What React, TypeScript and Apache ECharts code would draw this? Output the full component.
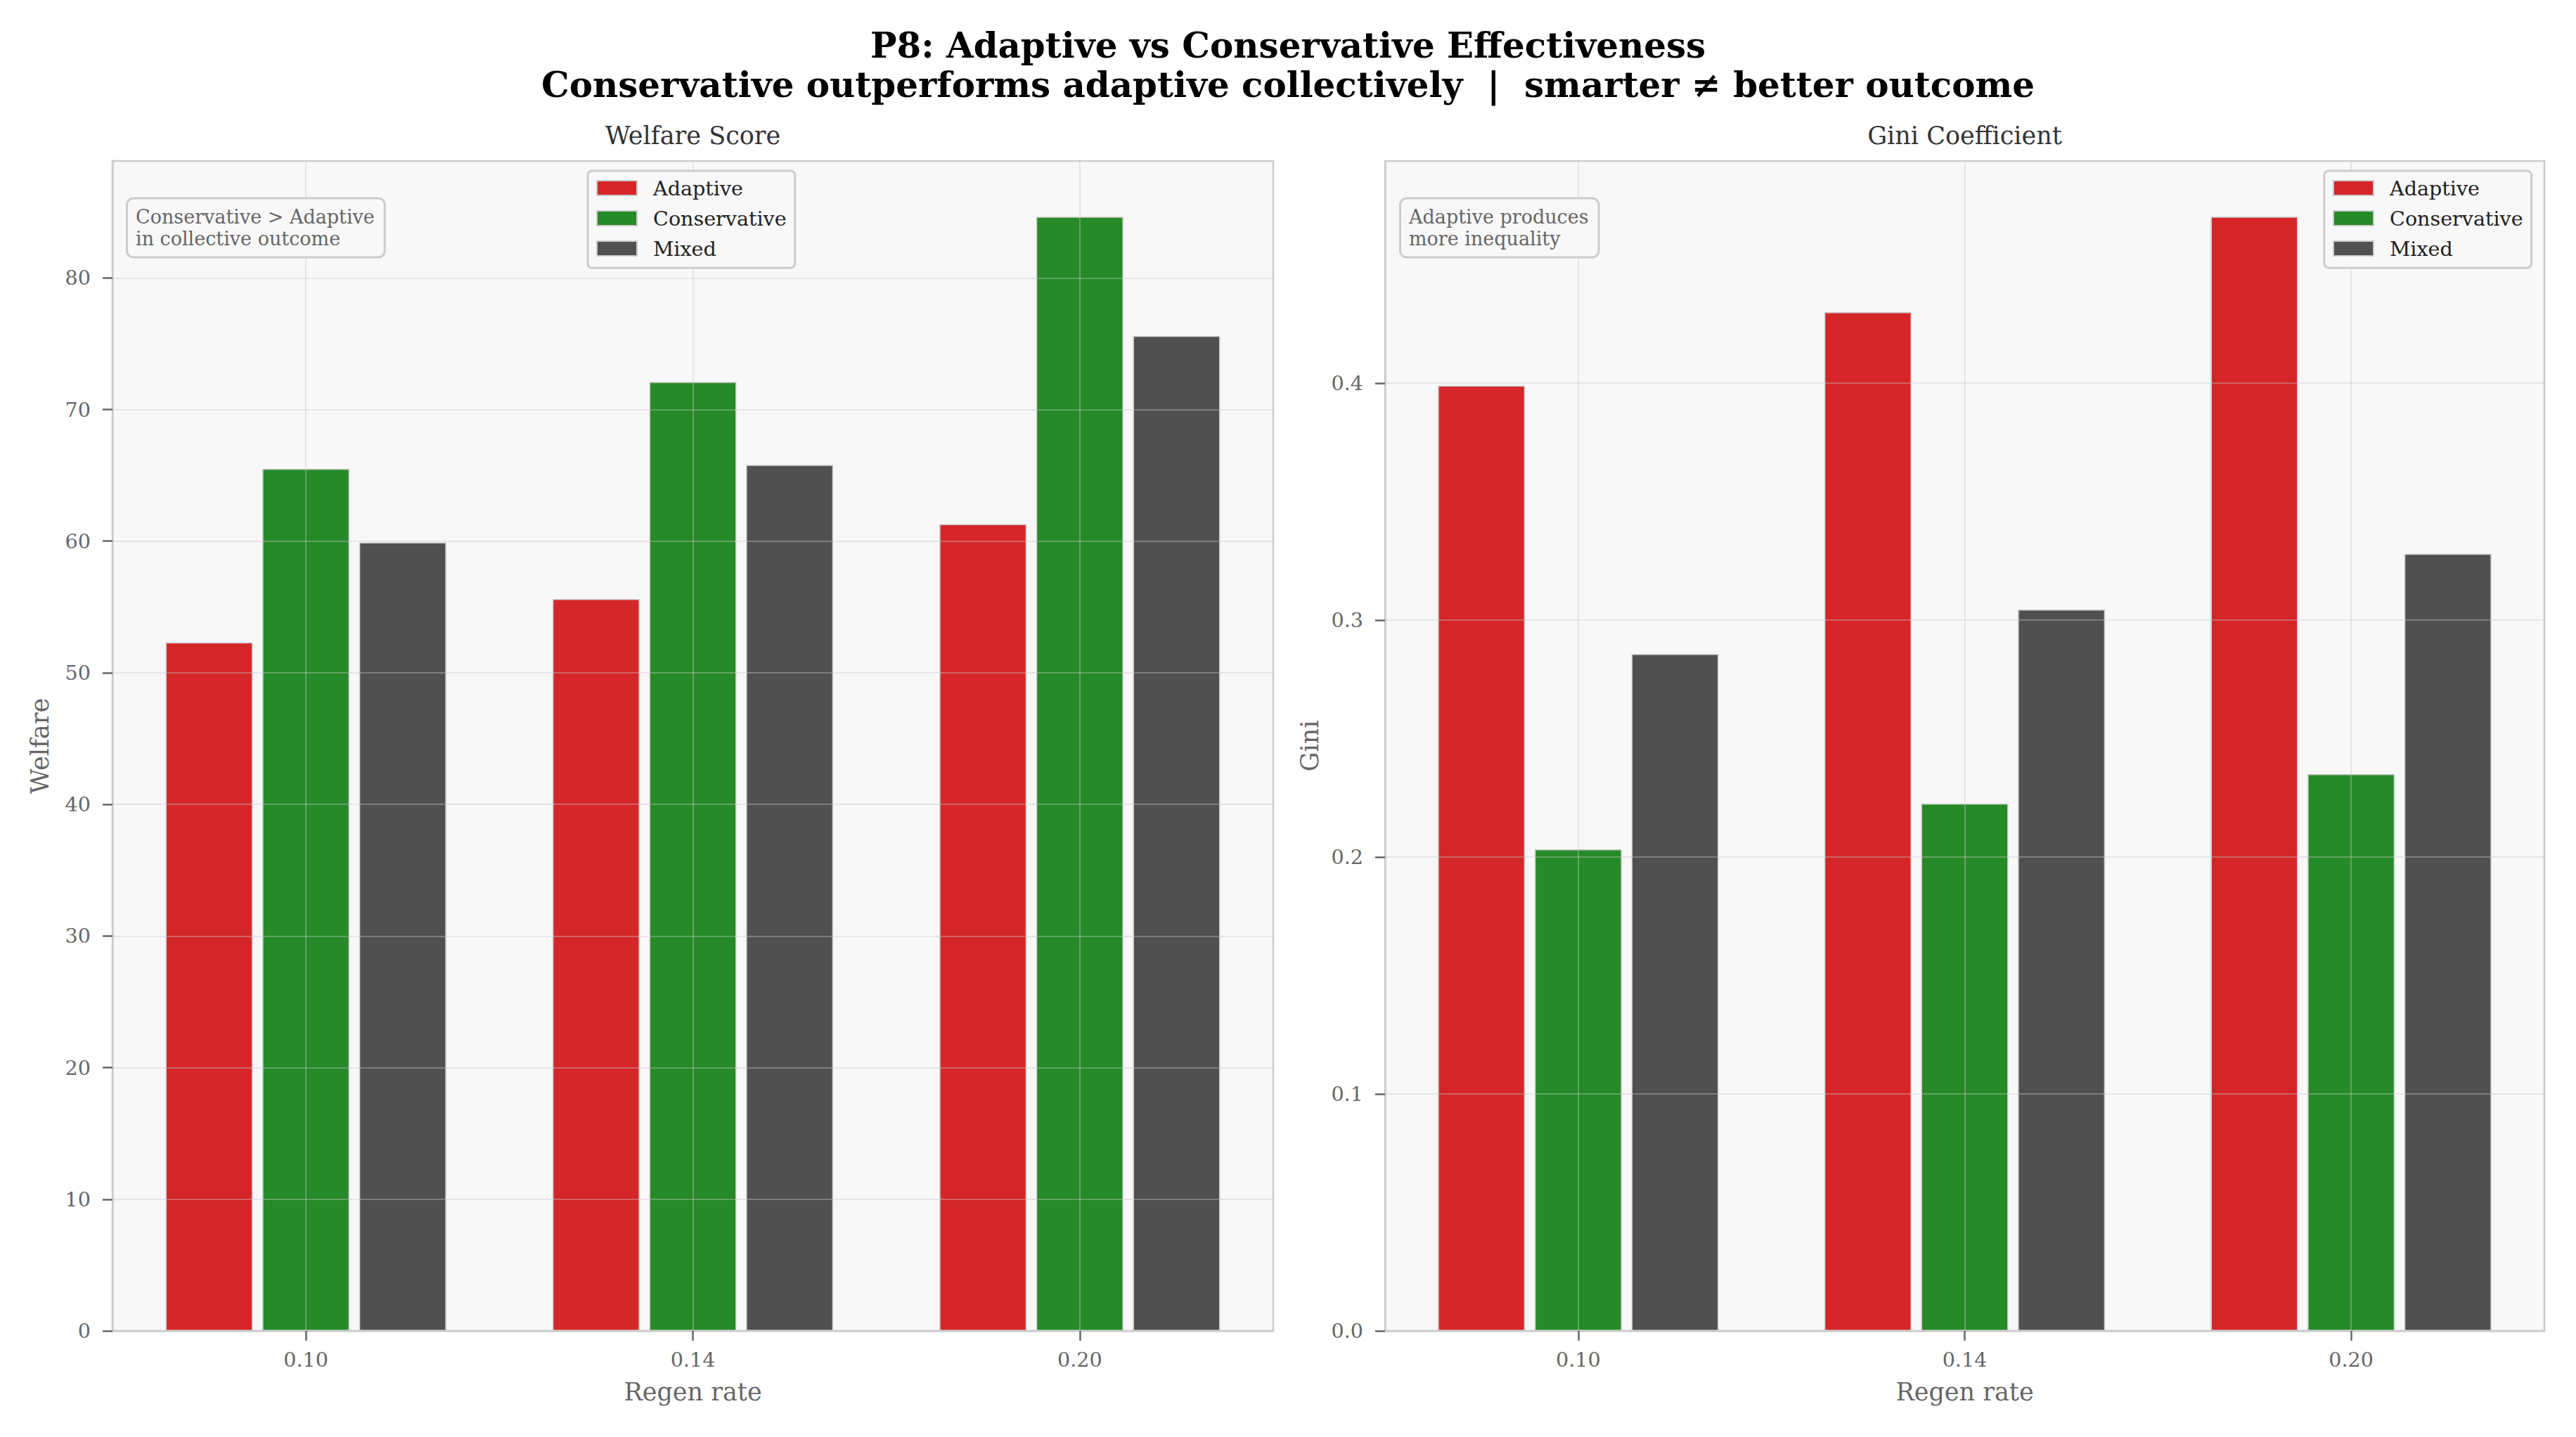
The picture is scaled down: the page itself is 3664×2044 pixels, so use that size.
import React, { useEffect, useRef } from 'react';
import * as echarts from 'echarts';

const categories = ['0.10', '0.14', '0.20'];
const seriesNames = ['Adaptive', 'Conservative', 'Mixed'];
const welfareAdaptive = [52.3, 55.6, 61.3];
const welfareConservative = [65.5, 72.1, 84.65];
const welfareMixed = [59.9, 65.8, 75.6];
const giniAdaptive = [0.399, 0.43, 0.4703];
const giniConservative = [0.2033, 0.2226, 0.235];
const giniMixed = [0.2857, 0.3045, 0.328];
const welfareTicks = [0, 10, 20, 30, 40, 50, 60, 70, 80];
const giniTicks = [0, 0.1, 0.2, 0.3, 0.4];
const colors = ['#d42628', '#258a27', '#505050'];

const titleLine1 = 'P8: Adaptive vs Conservative Effectiveness';
const titleLine2 = 'Conservative outperforms adaptive collectively  |  smarter \u2260 better outcome';
const panelTitles = ['Welfare Score', 'Gini Coefficient'];
const yNames = ['Welfare', 'Gini'];
const xName = 'Regen rate';
const notes = ['Conservative > Adaptive\nin collective outcome', 'Adaptive produces\nmore inequality'];

const FONT = "'DejaVu Serif', 'Liberation Serif', serif";
const GRID_LINE = 'rgba(200,200,200,0.5)';

export default function App() {
  const ref = useRef<HTMLDivElement>(null);

  useEffect(() => {
    if (!ref.current) return;
    const chart = echarts.init(ref.current, undefined, { renderer: 'svg' });

    const welfareMax = Math.max(...welfareAdaptive, ...welfareConservative, ...welfareMixed) * 1.05;
    const giniMax = Math.max(...giniAdaptive, ...giniConservative, ...giniMixed) * 1.05;

    const grids = [
      { left: 160, top: 229, width: 1651, height: 1664 },
      { left: 1970, top: 229, width: 1649, height: 1664 },
    ];

    const makeX = (gi: number) => ({
      gridIndex: gi,
      type: 'category',
      data: categories,
      z: 3,
      axisLine: { show: true, lineStyle: { color: '#cccccc', width: 2.5 } },
      axisTick: { show: true, alignWithLabel: true, length: 14, lineStyle: { color: '#666666', width: 2.5 } },
      axisLabel: { margin: 26, fontSize: 28.6, color: '#666666', fontFamily: FONT },
      splitLine: { show: true, alignWithLabel: true, lineStyle: { color: GRID_LINE, width: 1.6 } },
      name: xName,
      nameLocation: 'middle',
      nameGap: 69,
      nameTextStyle: { fontSize: 35, color: '#666666', fontFamily: FONT },
    });

    const makeY = (gi: number, max: number, interval: number, ticks: number[], fmt: (v: number) => string, gap: number) => ({
      gridIndex: gi,
      type: 'value',
      min: 0,
      max,
      interval,
      z: 3,
      axisLine: { show: true, lineStyle: { color: '#cccccc', width: 2.5 } },
      axisTick: { show: true, length: 14, lineStyle: { color: '#666666', width: 2.5 }, customValues: ticks },
      axisLabel: { margin: 31, fontSize: 28.6, color: '#666666', fontFamily: FONT, customValues: ticks, formatter: fmt },
      splitLine: { show: true, lineStyle: { color: GRID_LINE, width: 1.6 } },
      name: yNames[gi],
      nameLocation: 'middle',
      nameRotate: 90,
      nameGap: gap,
      nameTextStyle: { fontSize: 35, color: '#666666', fontFamily: FONT },
    });

    const dataSets = [
      [welfareAdaptive, welfareConservative, welfareMixed],
      [giniAdaptive, giniConservative, giniMixed],
    ];

    const series: any[] = [];
    dataSets.forEach((set, gi) => {
      set.forEach((vals, si) => {
        series.push({
          type: 'bar',
          name: seriesNames[si],
          xAxisIndex: gi,
          yAxisIndex: gi,
          data: vals,
          barWidth: 124,
          barGap: '11%',
          z: 2,
          itemStyle: { color: colors[si], borderColor: '#cccccc', borderWidth: 1.5 },
        });
      });
    });

    const makeLegend = (left: number) => ({
      orient: 'vertical',
      left,
      top: 243,
      data: seriesNames,
      icon: 'rect',
      itemWidth: 57,
      itemHeight: 21,
      itemGap: 14,
      padding: [10, 12, 13, 12],
      backgroundColor: '#f8f8f8',
      borderColor: '#cccccc',
      borderWidth: 3,
      borderRadius: 6,
      selectedMode: false,
      textStyle: { fontSize: 28.6, color: '#222222', fontFamily: FONT, padding: [0, 0, 0, 18] },
    });

    const noteBox = (x: number, text: string) => ({
      type: 'text',
      x,
      y: 283.5,
      z: 20,
      style: {
        text,
        fontSize: 27,
        lineHeight: 31,
        fontFamily: FONT,
        fill: '#666666',
        backgroundColor: '#f8f8f8',
        borderColor: '#cccccc',
        borderWidth: 3,
        borderRadius: 8,
        padding: [9, 13, 10, 11],
        align: 'left',
        verticalAlign: 'top',
      },
    });

    const centerText = (x: number, y: number, text: string, size: number, weight: string, fill: string) => ({
      type: 'text',
      x,
      y,
      z: 20,
      style: { text, fontSize: size, fontWeight: weight, fontFamily: FONT, fill, align: 'center', verticalAlign: 'middle' },
    });

    chart.setOption({
      animation: false,
      backgroundColor: '#ffffff',
      grid: grids.map((g) => ({ ...g, show: true, backgroundColor: '#f8f8f8', borderColor: '#cccccc', borderWidth: 2.5 })),
      xAxis: [makeX(0), makeX(1)],
      yAxis: [
        makeY(0, welfareMax, 10, welfareTicks, (v: number) => String(v), 86),
        makeY(1, giniMax, 0.1, giniTicks, (v: number) => v.toFixed(1), 90),
      ],
      legend: [makeLegend(836), makeLegend(3306)],
      series,
      graphic: [
        centerText(1832, 64.5, titleLine1, 49.9, 'bold', '#000000'),
        centerText(1832, 120.5, titleLine2, 49.9, 'bold', '#000000'),
        centerText(985.5, 193, panelTitles[0], 35, 'normal', '#333333'),
        centerText(2794.5, 193, panelTitles[1], 35, 'normal', '#333333'),
        noteBox(182, notes[0]),
        noteBox(1993, notes[1]),
      ],
    });

    return () => chart.dispose();
  }, []);

  return (
    <div
      ref={ref}
      style={{ position: 'fixed', left: 0, top: 0, width: '3664px', height: '2044px', background: '#ffffff' }}
    />
  );
}
